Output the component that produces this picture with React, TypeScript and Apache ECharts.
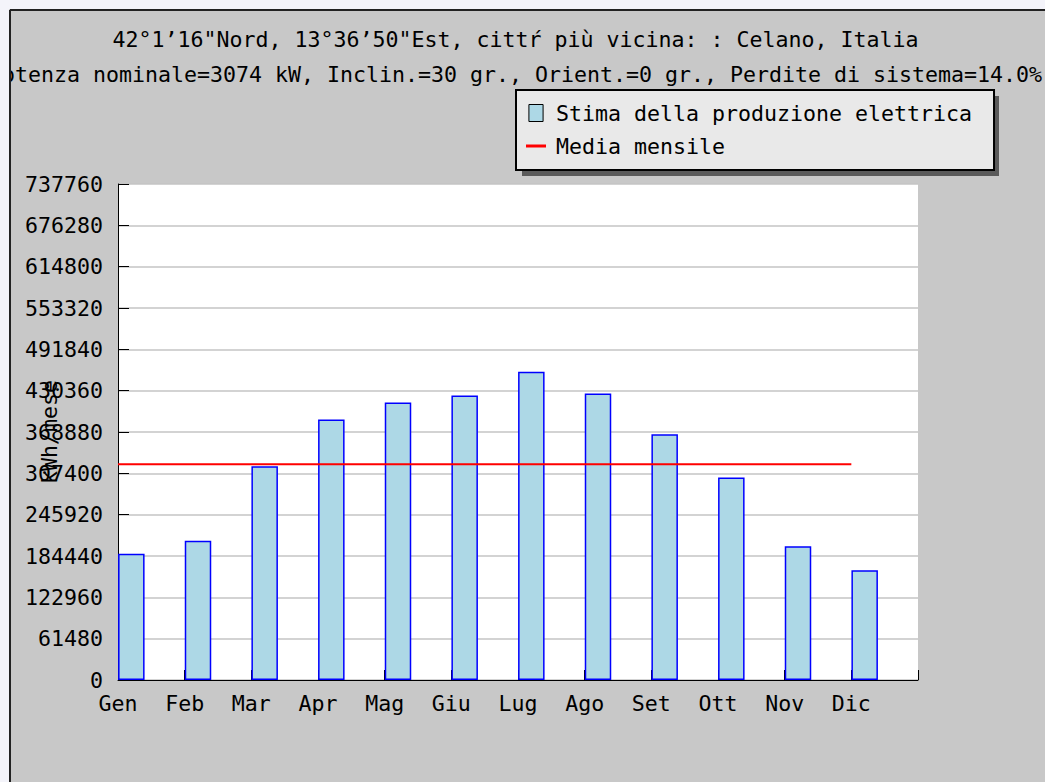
import React, { useEffect, useRef } from "react";
import * as echarts from "echarts";

const MONTHS = ["Gen", "Feb", "Mar", "Apr", "Mag", "Giu", "Lug", "Ago", "Set", "Ott", "Nov", "Dic"];
const PRODUCTION = [187900, 207300, 317900, 387500, 412800, 423200, 458400, 426200, 365600, 301100, 198800, 163100];
const MONTHLY_MEAN = 320800;
const Y_MAX = 737760;
const Y_STEP = 61480;
const TITLE_LINES = [
  "42°1’16\"Nord, 13°36’50\"Est, cittŕ più vicina: : Celano, Italia",
  "Potenza nominale=3074 kW, Inclin.=30 gr., Orient.=0 gr., Perdite di sistema=14.0%",
];
const SERIES_BAR = "Stima della produzione elettrica";
const SERIES_LINE = "Media mensile";
const Y_NAME = "kWh/mese";

const FONT = "DejaVu Sans Mono";
const FS = 21.6;

export default function App() {
  const ref = useRef<HTMLDivElement>(null);
  useEffect(() => {
    if (!ref.current) return;
    const chart = echarts.init(ref.current, undefined, { renderer: "svg" });
    const BAR_SHIFT = 0.2;
    chart.setOption({
      animation: false,
      backgroundColor: "#c8c8c8",
      title: TITLE_LINES.map((t, i) => ({
        text: t,
        left: 515.5,
        top: 28 + i * 35,
        padding: 0,
        textAlign: "center",
        textStyle: { fontFamily: FONT, fontSize: FS, fontWeight: "normal", color: "#000" },
      })),
      legend: {
        orient: "vertical",
        left: 516,
        top: 90,
        padding: [11, 22, 12, 10],
        itemGap: 9,
        itemWidth: 20,
        itemHeight: 17,
        backgroundColor: "#e9e9e9",
        borderColor: "#000",
        borderWidth: 2,
        borderRadius: 0,
        textStyle: { fontFamily: FONT, fontSize: FS, color: "#000", lineHeight: 24, padding: [0, 0, 0, 5] },
        data: [
          {
            name: SERIES_BAR,
            icon: "path://M0,0h15v18h-15z",
            itemStyle: { color: "#add8e6", borderColor: "#000", borderWidth: 1 },
          },
          {
            name: SERIES_LINE,
            icon: "path://M0,0h20v3h-20z",
            itemStyle: { color: "#ff0000", borderWidth: 0 },
          },
        ],
      },
      grid: {
        left: 118,
        top: 184,
        width: 800,
        height: 496,
        show: true,
        backgroundColor: "#ffffff",
        borderWidth: 0,
        containLabel: false,
        outerBoundsMode: "none",
      },
      xAxis: {
        type: "value",
        min: 0,
        max: MONTHS.length,
        interval: 1,
        axisLine: { show: true, onZero: false, lineStyle: { color: "#000", width: 1 } },
        axisTick: { show: true, inside: true, length: 10, lineStyle: { color: "#000", width: 1 } },
        axisLabel: {
          formatter: (v: number) => MONTHS[v] ?? "",
          margin: 12,
          fontFamily: FONT,
          fontSize: FS,
          color: "#000",
        },
        splitLine: { show: false },
      },
      yAxis: {
        type: "value",
        min: 0,
        max: Y_MAX,
        interval: Y_STEP,
        name: Y_NAME,
        nameLocation: "middle",
        nameRotate: 90,
        nameGap: 58,
        nameMoveOverlap: false,
        nameTextStyle: { fontFamily: FONT, fontSize: FS, color: "#000" },
        axisLine: { show: true, lineStyle: { color: "#000", width: 1 } },
        axisTick: { show: true, inside: true, length: 11, lineStyle: { color: "#000", width: 1 } },
        axisLabel: {
          formatter: (v: number) => String(v),
          margin: 15,
          fontFamily: FONT,
          fontSize: FS,
          color: "#000",
        },
        splitLine: { show: true, lineStyle: { color: "#c4c4c4", width: 1.5 } },
      },
      series: [
        {
          name: SERIES_BAR,
          type: "bar",
          barWidth: 26.5,
          data: PRODUCTION.map((v, i) => [i + BAR_SHIFT, v]),
          itemStyle: { color: "#add8e6", borderColor: "#0000ff", borderWidth: 1.5 },
          z: 2,
        },
        {
          name: SERIES_LINE,
          type: "line",
          symbol: "none",
          data: [
            [0, MONTHLY_MEAN],
            [MONTHS.length - 1, MONTHLY_MEAN],
          ],
          lineStyle: { color: "#ff0000", width: 2 },
          itemStyle: { color: "#ff0000" },
          z: 3,
        },
      ],
      graphic: [
        { type: "rect", z: 1, shape: { x: 522, y: 96, width: 477, height: 80 }, style: { fill: "#5a5a5a" } },
        { type: "rect", z: 100, shape: { x: 0, y: 0, width: 1045, height: 9 }, style: { fill: "#f4f4fa" } },
        { type: "rect", z: 100, shape: { x: 0, y: 0, width: 9, height: 782 }, style: { fill: "#f4f4fa" } },
        { type: "line", z: 101, shape: { x1: 10, y1: 10, x2: 1045, y2: 10 }, style: { stroke: "#222", lineWidth: 2 } },
        { type: "line", z: 101, shape: { x1: 10, y1: 10, x2: 10, y2: 782 }, style: { stroke: "#222", lineWidth: 2 } },
      ],
    });
    return () => chart.dispose();
  }, []);
  return (
    <div
      ref={ref}
      style={{ position: "absolute", left: 0, top: 0, width: 1045, height: 782 }}
    />
  );
}
